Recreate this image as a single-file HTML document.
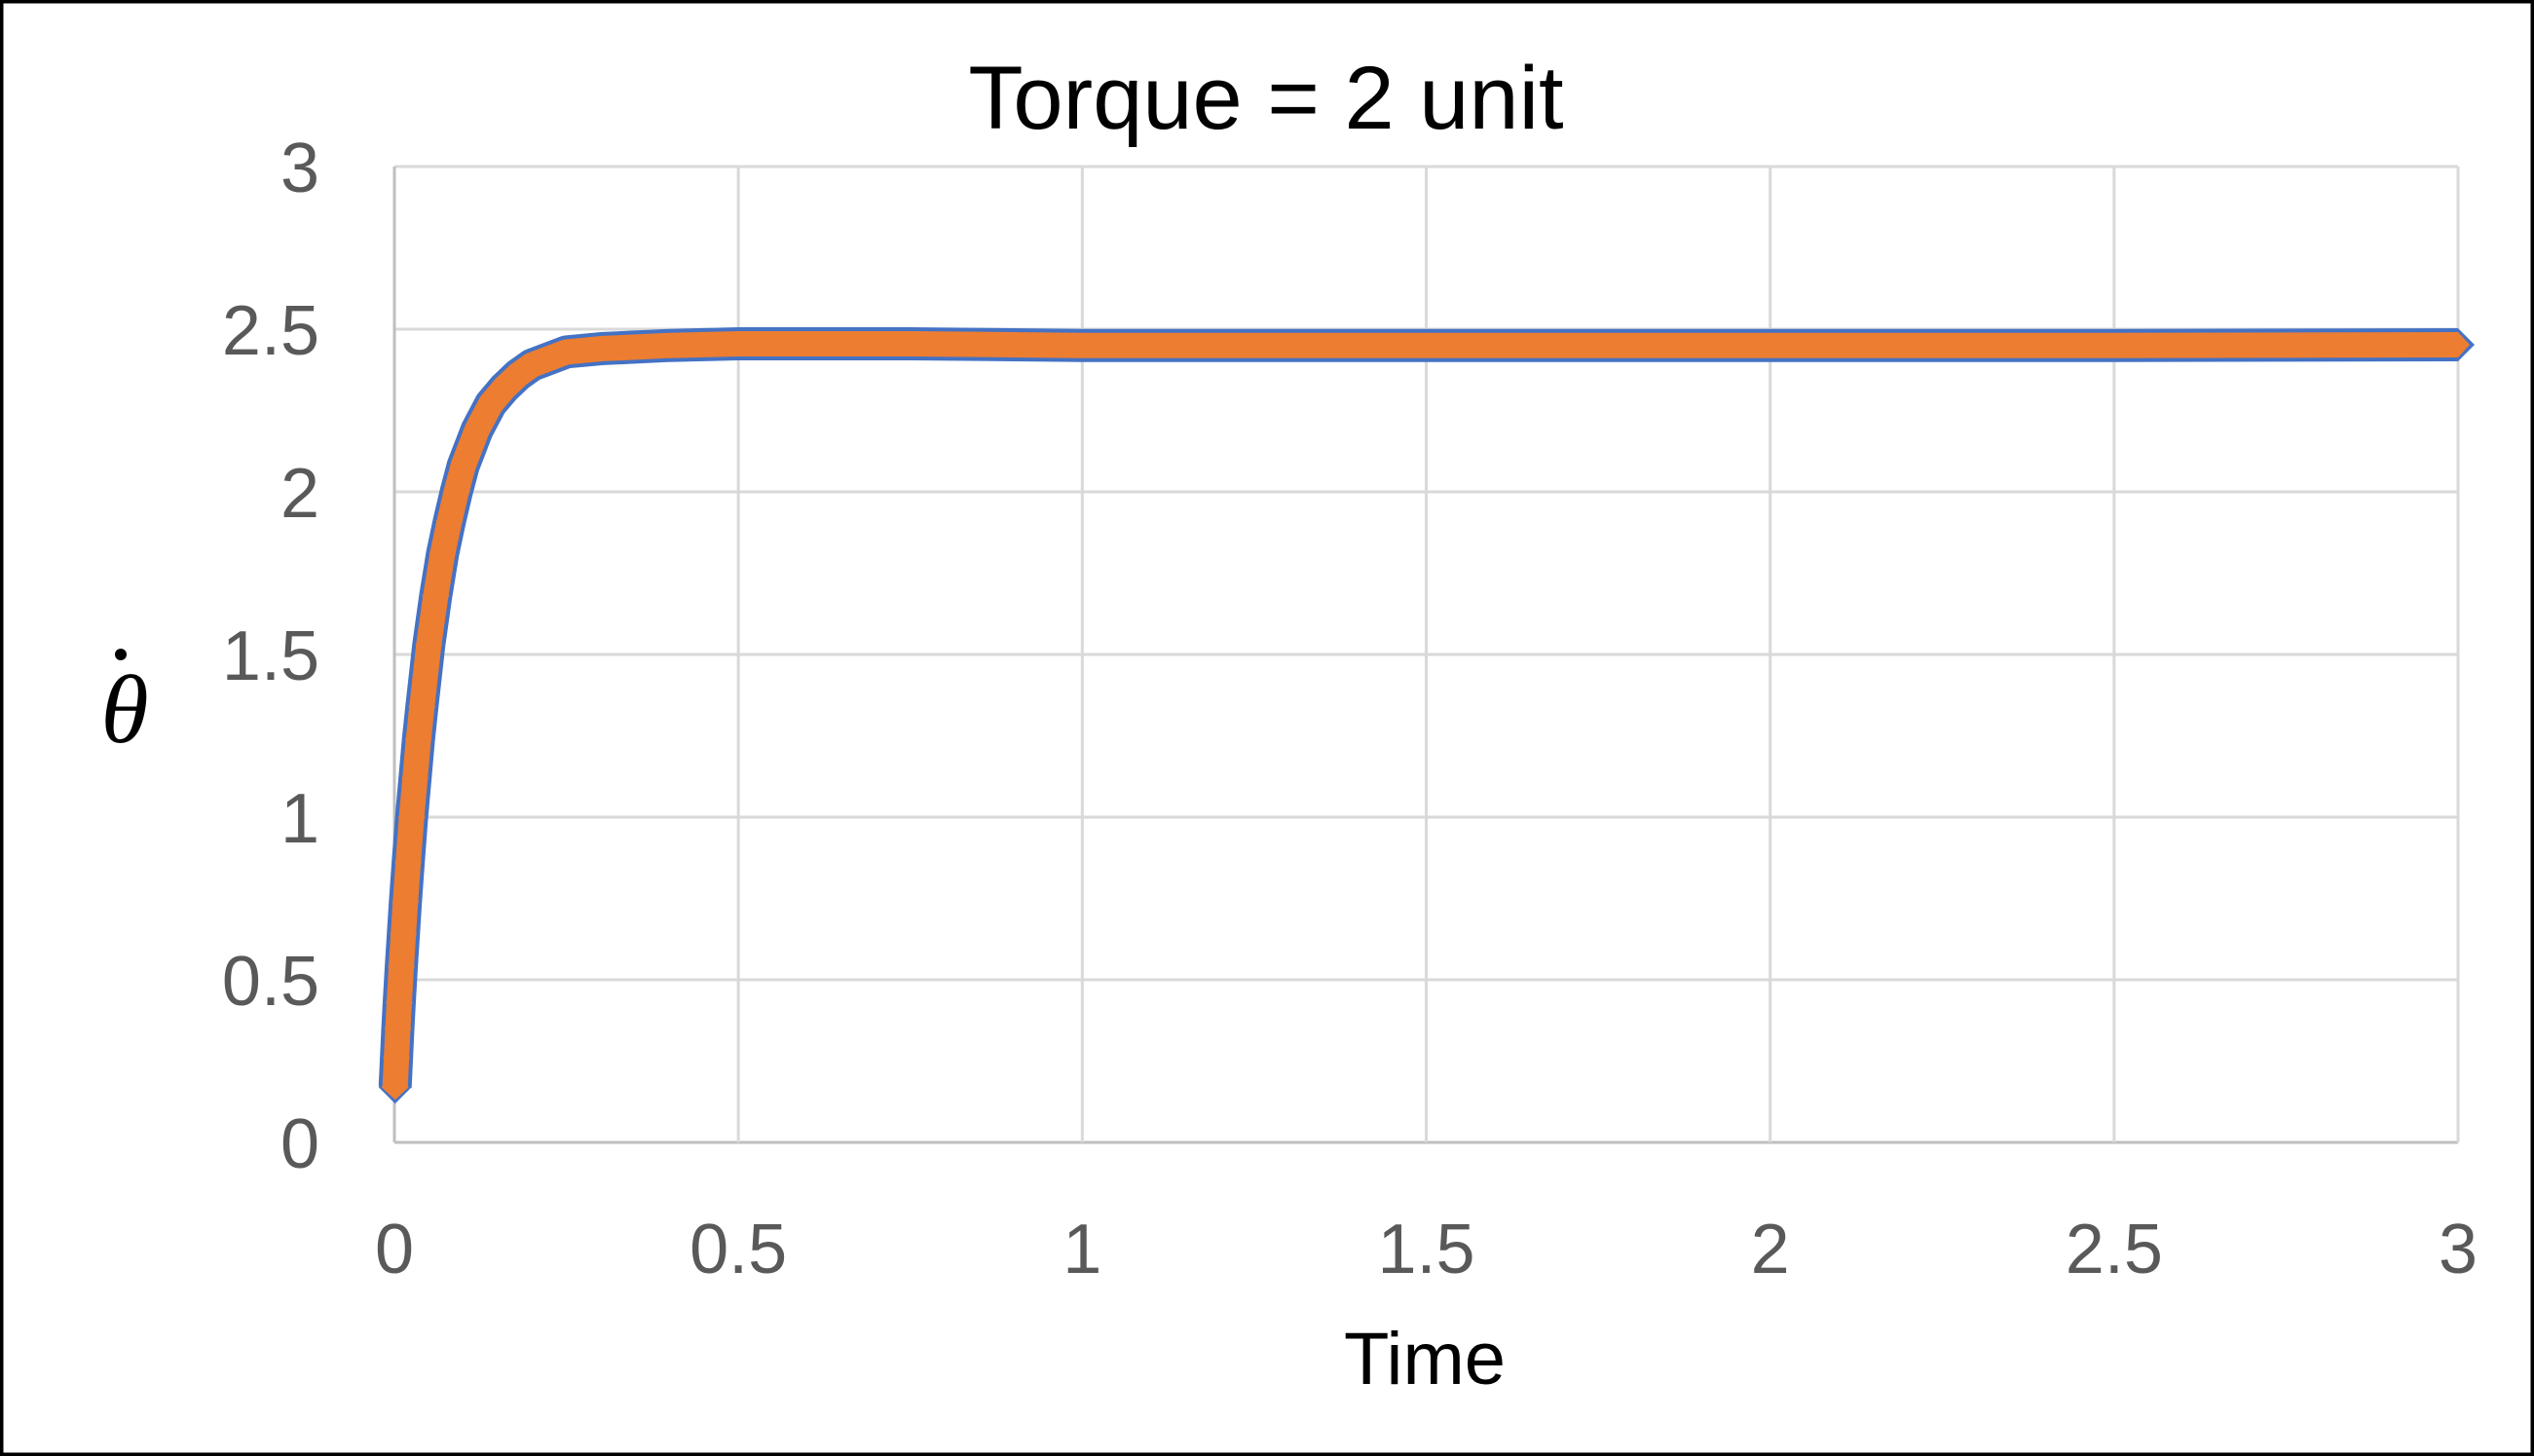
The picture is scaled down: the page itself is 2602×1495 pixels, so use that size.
<!DOCTYPE html>
<html><head><meta charset="utf-8"><style>
html,body{margin:0;padding:0;background:#fff;}
svg{display:block;}
</style></head><body>
<svg id="chart" width="2602" height="1495" viewBox="0 0 2602 1495" xmlns="http://www.w3.org/2000/svg">
<rect x="1.5" y="1.5" width="2599" height="1492" fill="#fff" stroke="#000" stroke-width="4"/>
<text x="1300" y="132" text-anchor="middle" font-family="'Liberation Sans', sans-serif" font-size="92" fill="#000">Torque = 2 unit</text>
<g id="grid"></g>
<g id="yticks"></g>
<g id="xticks"></g>
<g id="series"></g>
<text x="1463" y="1421" text-anchor="middle" font-family="'Liberation Sans', sans-serif" font-size="76" fill="#000">Time</text>
<text x="128" y="762" text-anchor="middle" font-family="'Liberation Serif', serif" font-style="italic" font-size="100" fill="#000">θ</text>
<circle cx="124" cy="672" r="6" fill="#000"/>
</svg>
<script>
const xTicks = [0, 0.5, 1, 1.5, 2, 2.5, 3];
const yTicks = [0, 0.5, 1, 1.5, 2, 2.5, 3];
const xTickLabels = ["0", "0.5", "1", "1.5", "2", "2.5", "3"];
const yTickLabels = ["0", "0.5", "1", "1.5", "2", "2.5", "3"];
const times = [0.001,0.003,0.005,0.007,0.01,0.013,0.016,0.02,0.025,0.03,0.035,0.04,0.05,0.06,0.07,0.08,0.09,0.1,0.12,0.14,0.16,0.18,0.2,0.25,0.3,0.4,0.5,0.75,1,1.5,2,2.5,3];
const thetaDot = [0.17,0.26,0.35,0.43,0.54,0.64,0.74,0.86,1.0,1.12,1.24,1.34,1.53,1.68,1.81,1.91,2.0,2.08,2.19,2.27,2.32,2.36,2.39,2.43,2.44,2.45,2.455,2.455,2.45,2.45,2.45,2.45,2.452];

const X0 = 405, X1 = 2524, Y0 = 1173, Y1 = 171;
const xMin = 0, xMax = 3, yMin = 0, yMax = 3;
const sx = v => X0 + (v - xMin) / (xMax - xMin) * (X1 - X0);
const sy = v => Y0 - (v - yMin) / (yMax - yMin) * (Y0 - Y1);
const NS = "http://www.w3.org/2000/svg";
const mk = (tag, attrs, parent) => { const e = document.createElementNS(NS, tag); for (const k in attrs) e.setAttribute(k, attrs[k]); parent.appendChild(e); return e; };

const grid = document.getElementById('grid');
yTicks.forEach((v, i) => {
  const l = mk('line', {x1: X0, x2: X1, y1: sy(v), y2: sy(v), stroke: i === 0 ? '#bfbfbf' : '#d9d9d9', 'stroke-width': 3}, grid);
  
  
});
xTicks.forEach((v, i) => {
  const l = mk('line', {x1: sx(v), x2: sx(v), y1: Y1, y2: Y0, stroke: i === 0 ? '#bfbfbf' : '#d9d9d9', 'stroke-width': 3}, grid);
  
  
});
const yt = document.getElementById('yticks');
yTicks.forEach((v, i) => {
  const t = mk('text', {x: 328, y: sy(v) + 26, 'text-anchor': 'end', 'font-family': "'Liberation Sans', sans-serif", 'font-size': 72, fill: '#595959'}, yt);
  t.textContent = yTickLabels[i];
  
  
});
const xt = document.getElementById('xticks');
xTicks.forEach((v, i) => {
  const t = mk('text', {x: sx(v), y: 1307, 'text-anchor': 'middle', 'font-family': "'Liberation Sans', sans-serif", 'font-size': 72, fill: '#595959'}, xt);
  t.textContent = xTickLabels[i];
  
  
});

const g = document.getElementById('series');
const pts = times.map((t, i) => sx(t) + ',' + sy(thetaDot[i])).join(' ');
const blue = mk('polyline', {points: pts, fill: 'none', stroke: '#4472c4', 'stroke-width': 34, 'stroke-linejoin': 'round', 'stroke-linecap': 'butt'}, g);


times.forEach((t, i) => {
  if (t > 0.1) return;
  const cx = sx(t), cy = sy(thetaDot[i]);
  const d = mk('polygon', {points: `${cx-17},${cy} ${cx},${cy-17} ${cx+17},${cy} ${cx},${cy+17}`, fill: '#4472c4'}, g);
  
  
});
const orange = mk('polyline', {points: pts, fill: 'none', stroke: '#ed7d31', 'stroke-width': 26, 'stroke-linejoin': 'round', 'stroke-linecap': 'butt'}, g);


times.forEach((t, i) => {
  if (t > 0.1) return;
  const cx = sx(t), cy = sy(thetaDot[i]);
  const d = mk('polygon', {points: `${cx-14},${cy} ${cx},${cy-13} ${cx+14},${cy} ${cx},${cy+13}`, fill: '#ed7d31'}, g);
  
  
});
const n = times.length - 1;
const ex = sx(times[n]), ey = sy(thetaDot[n]);
const tip = mk('polygon', {points: `${ex},${ey-17} ${ex+17},${ey} ${ex},${ey+17}`, fill: '#4472c4'}, g);


const tip2 = mk('polygon', {points: `${ex},${ey-13} ${ex+12},${ey} ${ex},${ey+13}`, fill: '#ed7d31'}, g);


</script>
</body></html>
